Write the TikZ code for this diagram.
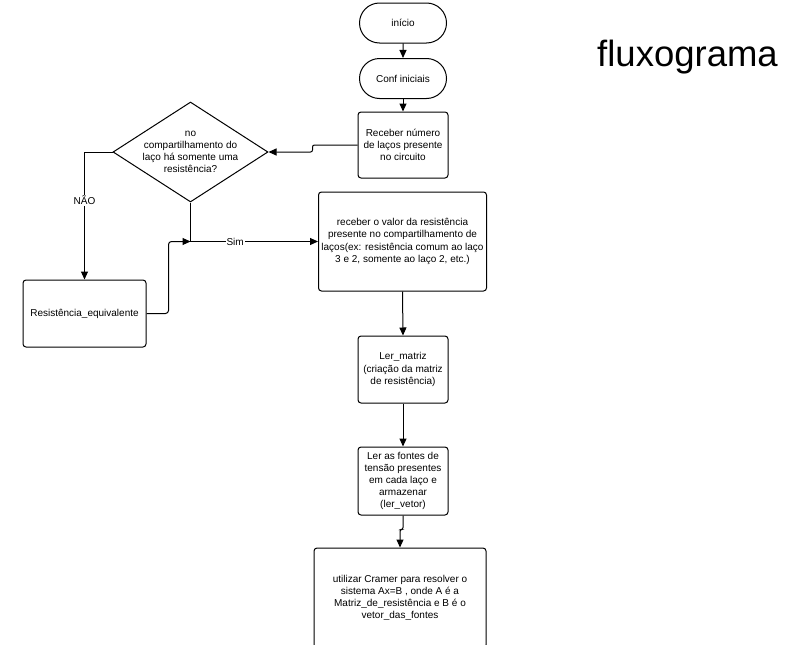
\documentclass[tikz,border=0pt]{standalone}
\usepackage{fontspec}
\setmainfont{Liberation Sans}
\usetikzlibrary{arrows.meta,shapes.geometric,shapes.misc}
\begin{document}
\begin{tikzpicture}[x=1pt,y=-1pt,
  every node/.style={font=\fontsize{10}{12.2}\selectfont, align=center, inner sep=0pt},
  box/.style={draw, line width=1pt, rounded corners=3pt},
  term/.style={draw, line width=1pt, rounded rectangle, minimum width=87pt, minimum height=40pt},
  arr/.style={draw, line width=1pt, -{Triangle[length=8pt,width=7pt]}},
  lbl/.style={fill=white, inner sep=1pt}]
\useasboundingbox (0,0) rectangle (795,645);
\clip (0,0) rectangle (795,645);
\node[term] (ini) at (403,23) {início};
\node[term] (conf) at (403,78.5) {Conf iniciais};
\node[box, minimum width=90pt, minimum height=66pt] (rec) at (403,145) {Receber número\\de laços presente\\no circuito};
\node[draw, line width=1pt, diamond, minimum width=155pt, minimum height=100pt] (dec) at (190.5,152) {};
\node (dect) at (dec.center) {no\\compartilhamento do\\laço há somente uma\\resistência?};
\node[box, minimum width=168pt, minimum height=99pt] (val) at (402.5,241.5) {receber o valor da resistência\\presente no compartilhamento de\\laços(ex: resistência comum ao laço\\3 e 2, somente ao laço 2, etc.)};
\node[box, minimum width=123pt, minimum height=67pt] (req) at (84.5,313.5) {Resistência\_equivalente};
\node[box, minimum width=90pt, minimum height=67pt] (mat) at (403,369.5) {Ler\_matriz\\(criação da matriz\\de resistência)};
\node[box, minimum width=90pt, minimum height=68pt] (fon) at (403,481) {Ler as fontes de\\tensão presentes\\em cada laço e\\armazenar\\(ler\_vetor)};
\node[box, minimum width=172pt, minimum height=100pt] (cra) at (400,598) {utilizar Cramer para resolver o\\sistema Ax=B , onde A é a\\Matriz\_de\_resistência e B é o\\vetor\_das\_fontes};
\node[font=\fontsize{36.5}{40}\selectfont] (tit) at (687.5,57) {fluxograma};
\coordinate (j) at (dec.south |- val.west);
\draw[arr] (ini) -- (conf);
\draw[arr] (conf) -- (rec);
\draw[arr, rounded corners=2pt] (rec.west) -- ++(-45,0) |- (dec.east);
\draw[arr] (dec.west) -| (req.north) node[lbl, pos=0.69] {NÃO};
\draw[arr] (dec.south) |- (val.west) node[lbl, pos=0.675] {Sim};
\draw[arr, rounded corners=3pt] (req.east) -- ++(22,0) |- (j);
\draw[arr] (val.south) -- (mat.north);
\draw[arr] (mat) -- (fon);
\draw[arr, rounded corners=2pt] (fon.south) -- ++(0,14) -| (cra.north);
\end{tikzpicture}
\end{document}
